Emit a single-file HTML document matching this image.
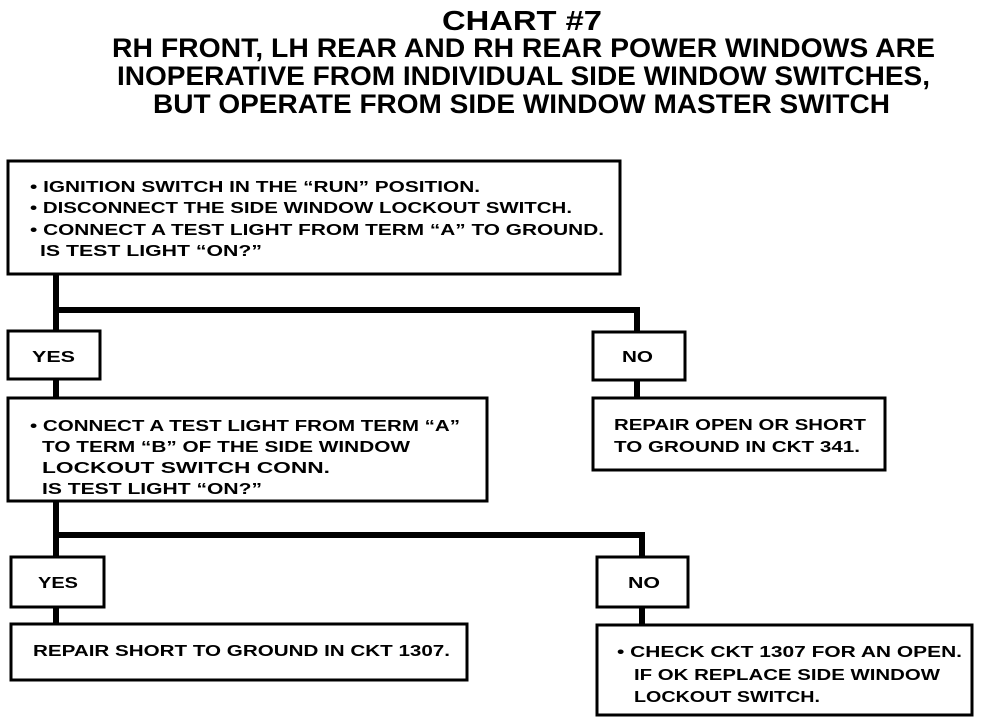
<!DOCTYPE html>
<html><head><meta charset="utf-8"><style>html,body{margin:0;padding:0;background:#fff}svg{display:block}</style></head>
<body>
<svg width="992" height="724" viewBox="0 0 992 724" xmlns="http://www.w3.org/2000/svg" font-family="Liberation Sans, Arial, sans-serif" font-weight="bold" fill="#000">
<g font-size="27">
<text x="442" y="30" textLength="160" lengthAdjust="spacingAndGlyphs" font-size="28">CHART #7</text>
<text x="112" y="57" textLength="823" lengthAdjust="spacingAndGlyphs">RH FRONT, LH REAR AND RH REAR POWER WINDOWS ARE</text>
<text x="117" y="85" textLength="813" lengthAdjust="spacingAndGlyphs">INOPERATIVE FROM INDIVIDUAL SIDE WINDOW SWITCHES,</text>
<text x="153" y="113" textLength="737" lengthAdjust="spacingAndGlyphs">BUT OPERATE FROM SIDE WINDOW MASTER SWITCH</text>
</g>
<g fill="none" stroke="#000" stroke-width="3">
<rect x="8" y="161" width="612" height="113"/>
<rect x="8" y="331" width="92" height="48"/>
<rect x="593" y="332" width="92" height="48"/>
<rect x="8" y="398" width="479" height="103"/>
<rect x="593" y="398" width="292" height="72"/>
<rect x="11" y="557" width="93" height="50"/>
<rect x="597" y="557" width="91" height="50"/>
<rect x="11" y="624" width="456" height="56"/>
<rect x="597" y="625" width="375" height="90"/>
</g>
<g fill="none" stroke="#000" stroke-width="6">
<polyline points="56,274 56,310 637,310 637,332"/>
<line x1="56" y1="310" x2="56" y2="331"/>
<line x1="56" y1="379" x2="56" y2="398"/>
<line x1="637" y1="380" x2="637" y2="398"/>
<polyline points="56,501 56,535 642,535 642,557"/>
<line x1="56" y1="535" x2="56" y2="557"/>
<line x1="56" y1="607" x2="56" y2="624"/>
<line x1="642" y1="607" x2="642" y2="625"/>
</g>
<g font-size="16">
<text x="30" y="192" textLength="450" lengthAdjust="spacingAndGlyphs">• IGNITION SWITCH IN THE “RUN” POSITION.</text>
<text x="30" y="213" textLength="542" lengthAdjust="spacingAndGlyphs">• DISCONNECT THE SIDE WINDOW LOCKOUT SWITCH.</text>
<text x="30" y="235" textLength="574" lengthAdjust="spacingAndGlyphs">• CONNECT A TEST LIGHT FROM TERM “A” TO GROUND.</text>
<text x="40" y="256" textLength="222" lengthAdjust="spacingAndGlyphs">IS TEST LIGHT “ON?”</text>
<text x="32" y="362" textLength="43" lengthAdjust="spacingAndGlyphs">YES</text>
<text x="622" y="362" textLength="31" lengthAdjust="spacingAndGlyphs">NO</text>
<text x="30" y="431" textLength="430" lengthAdjust="spacingAndGlyphs">• CONNECT A TEST LIGHT FROM TERM “A”</text>
<text x="42" y="452" textLength="368" lengthAdjust="spacingAndGlyphs">TO TERM “B” OF THE SIDE WINDOW</text>
<text x="42" y="473" textLength="288" lengthAdjust="spacingAndGlyphs">LOCKOUT SWITCH CONN.</text>
<text x="42" y="494" textLength="220" lengthAdjust="spacingAndGlyphs">IS TEST LIGHT “ON?”</text>
<text x="614" y="430" textLength="252" lengthAdjust="spacingAndGlyphs">REPAIR OPEN OR SHORT</text>
<text x="614" y="452" textLength="246" lengthAdjust="spacingAndGlyphs">TO GROUND IN CKT 341.</text>
<text x="38" y="588" textLength="40" lengthAdjust="spacingAndGlyphs">YES</text>
<text x="628" y="588" textLength="32" lengthAdjust="spacingAndGlyphs">NO</text>
<text x="33" y="656" textLength="417" lengthAdjust="spacingAndGlyphs">REPAIR SHORT TO GROUND IN CKT 1307.</text>
<text x="617" y="657" textLength="345" lengthAdjust="spacingAndGlyphs">• CHECK CKT 1307 FOR AN OPEN.</text>
<text x="634" y="680" textLength="306" lengthAdjust="spacingAndGlyphs">IF OK REPLACE SIDE WINDOW</text>
<text x="634" y="702" textLength="186" lengthAdjust="spacingAndGlyphs">LOCKOUT SWITCH.</text>
</g>
</svg>
</body></html>
